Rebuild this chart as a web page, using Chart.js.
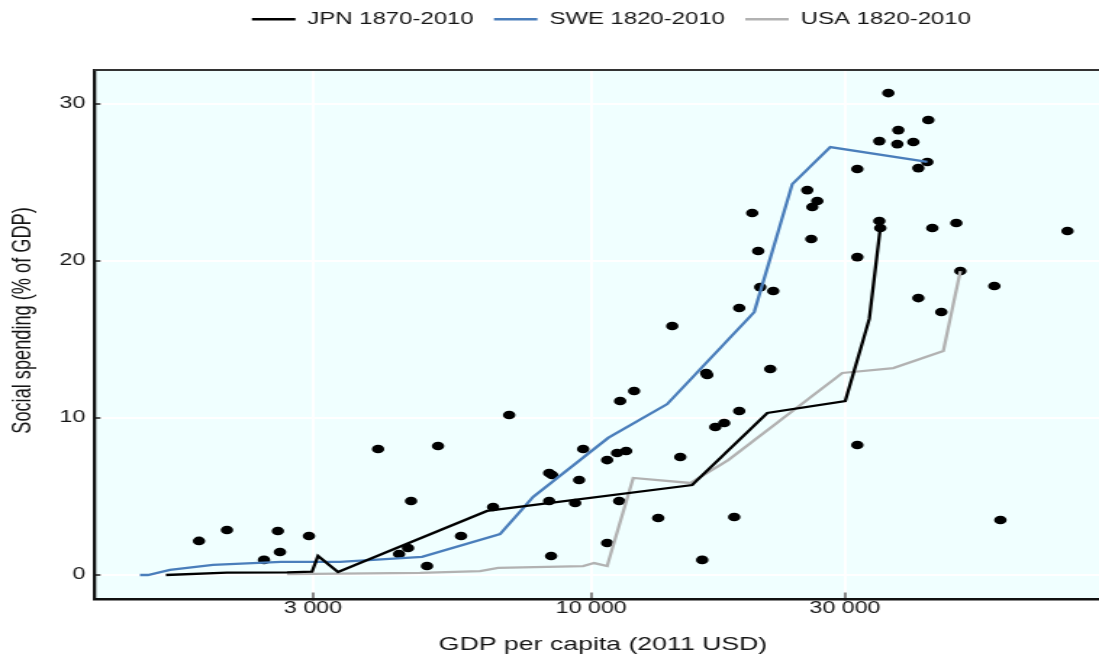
<!DOCTYPE html>
<html>
<head>
<meta charset="utf-8">
<script src="https://cdn.jsdelivr.net/npm/chart.js@4/dist/chart.umd.min.js"></script>
<style>
  html, body { margin: 0; padding: 0; background: #ffffff; overflow: hidden; }
  #wrap { width: 758px; height: 657px; transform: scaleX(1.4499); transform-origin: 0 0; }
  canvas { display: block; }
</style>
</head>
<body>
<div id="wrap"><canvas id="chart" width="758" height="657"></canvas></div>
<script>
// Country observations: GDP per capita (2011 USD) and social spending (% of GDP)
const pointGdp = [1832, 2068, 2427, 2578, 2601, 2949, 3977, 4355, 4528, 4587, 4915, 5155,
  5694, 6542, 7013, 8337, 8445, 8337, 8409, 9330, 9493, 9660, 10717, 10717,
  11190, 11635, 11290, 11336, 12044, 13366, 14203, 14705, 16171, 16454, 16526, 17112,
  17787, 18574, 18980, 18980, 20078, 20606, 20787, 21706, 21988, 25480, 26037, 26607,
  25925, 31637, 31637, 31637, 34800, 34800, 34945, 36185, 37620, 37784, 40320, 41203,
  41203, 42837, 43022, 43772, 45505, 48564, 49420, 57254, 58760, 78570];
const pointSpending = [2.17, 2.87, 0.96, 2.80, 1.46, 2.48, 8.03, 1.34, 1.72, 4.71, 0.57, 8.22,
  2.48, 4.33, 10.19, 6.50, 6.37, 4.71, 1.21, 4.59, 6.05, 8.03, 7.32, 2.04,
  7.77, 7.90, 4.71, 11.08, 11.72, 3.63, 15.86, 7.52, 0.96, 12.87, 12.74, 9.43,
  9.68, 3.69, 10.45, 17.01, 23.06, 20.64, 18.34, 13.12, 18.09, 24.52, 23.44, 23.82,
  21.40, 25.86, 20.25, 8.28, 27.64, 22.55, 22.10, 30.70, 27.45, 28.34, 27.58, 25.92,
  17.64, 26.31, 28.98, 22.10, 16.75, 22.42, 19.36, 18.41, 3.50, 21.91];

// Historical paths
const jpnGdp = [1588, 2068, 2682, 2988, 3066, 3344, 6374, 15485, 21429, 30034, 33327, 34945];
const jpnSpending = [0.00, 0.15, 0.17, 0.21, 1.21, 0.19, 4.08, 5.73, 10.32, 11.08, 16.31, 22.10];

const sweGdp = [1419, 1469, 1616, 1946, 2613, 3373, 4811, 6743, 7779, 10763, 13899, 20254, 23878, 28143, 42837];
const sweSpending = [0.00, 0.00, 0.32, 0.64, 0.83, 0.83, 1.15, 2.61, 4.97, 8.73, 10.89, 16.75, 24.90, 27.26, 26.31];

const usaGdp = [2682, 4769, 6184, 6686, 9660, 10130, 10717, 11995, 15355, 18097, 29648, 36974, 45904, 49420];
const usaSpending = [0.06, 0.13, 0.25, 0.45, 0.57, 0.76, 0.57, 6.18, 5.86, 7.32, 12.87, 13.18, 14.27, 19.36];

const seriesLabels = ['JPN 1870-2010', 'SWE 1820-2010', 'USA 1820-2010'];

// Axis ticks
const xTickValues = [3000, 10000, 30000];
const xTickLabels = ['3 000', '10 000', '30 000'];
const yTickValues = [0, 10, 20, 30];
const yTickLabels = ['0', '10', '20', '30'];

const FONT = '"Liberation Sans", Arial, Helvetica, sans-serif';
const TEXT = '#141414';

const toPoints = (xs, ys) => xs.map((x, i) => ({ x: x, y: ys[i] }));

// Panel background and top frame line
const panel = {
  id: 'panel',
  beforeDraw(chart) {
    const a = chart.chartArea, ctx = chart.ctx;
    ctx.save();
    ctx.fillStyle = '#f0ffff';
    ctx.fillRect(a.left, a.top, a.right - a.left, a.bottom - a.top);
    ctx.restore();
  },
  beforeDatasetsDraw(chart) {
    const a = chart.chartArea, ctx = chart.ctx;
    ctx.save();
    ctx.strokeStyle = '#333333';
    ctx.lineWidth = 2;
    ctx.beginPath();
    ctx.moveTo(a.left, a.top);
    ctx.lineTo(a.right, a.top);
    ctx.stroke();
    ctx.restore();
  }
};

// Legend block height / placement and axis title offsets
const placement = {
  id: 'placement',
  beforeLayout(chart) {
    const lg = chart.legend;
    if (lg && !lg.__sized) {
      const fit = lg.fit;
      lg.fit = function () { fit.call(this); this.height = 73; };
      lg.__sized = true;
    }
  },
  afterLayout(chart) {
    const lg = chart.legend;
    if (lg) { lg.left += 42.7; lg.right += 42.7; }
    const shifts = { x: [4.5, 0], y: [0, -14] };
    Object.keys(shifts).forEach(id => {
      const sc = chart.scales[id];
      if (sc && !sc.__shifted) {
        const draw = sc.drawTitle;
        const [dx, dy] = shifts[id];
        sc.drawTitle = function () {
          this.ctx.save();
          this.ctx.translate(dx, dy);
          draw.apply(this, arguments);
          this.ctx.restore();
        };
        sc.__shifted = true;
      }
    });
  }
};

new Chart(document.getElementById('chart'), {
  type: 'scatter',
  data: {
    datasets: [
      { label: seriesLabels[0], data: toPoints(jpnGdp, jpnSpending), showLine: true,
        borderColor: '#000000', backgroundColor: '#000000', borderWidth: 2.3, pointRadius: 0, pointHoverRadius: 0, tension: 0 },
      { label: seriesLabels[1], data: toPoints(sweGdp, sweSpending), showLine: true,
        borderColor: '#4a7ebb', backgroundColor: '#4a7ebb', borderWidth: 2.3, pointRadius: 0, pointHoverRadius: 0, tension: 0 },
      { label: seriesLabels[2], data: toPoints(usaGdp, usaSpending), showLine: true,
        borderColor: '#b2b2b2', backgroundColor: '#b2b2b2', borderWidth: 2.3, pointRadius: 0, pointHoverRadius: 0, tension: 0 },
      { label: 'obs', data: toPoints(pointGdp, pointSpending), showLine: false,
        backgroundColor: '#000000', borderColor: '#000000', borderWidth: 0, pointRadius: 4.3, pointHoverRadius: 4.3 }
    ]
  },
  options: {
    responsive: false,
    animation: false,
    devicePixelRatio: 1,
    events: [],
    layout: { autoPadding: false, padding: { top: -3, left: 0, right: 0, bottom: 0 } },
    plugins: {
      tooltip: { enabled: false },
      legend: {
        display: true,
        position: 'top',
        align: 'center',
        labels: {
          boxWidth: 30, boxHeight: 2.5, padding: 14, color: TEXT,
          font: { family: FONT, size: 16.5 },
          generateLabels(chart) {
            return chart.data.datasets.slice(0, 3).map((ds, i) => ({
              text: ds.label, fillStyle: ds.borderColor, strokeStyle: ds.borderColor,
              lineWidth: 0, hidden: false, datasetIndex: i, fontColor: TEXT
            }));
          }
        }
      }
    },
    scales: {
      x: {
        type: 'logarithmic', position: 'bottom', min: 1163, max: 90060, bounds: 'data',
        afterFit(scale) { scale.height = 58; },
        afterBuildTicks(scale) { scale.ticks = xTickValues.map(v => ({ value: v })); },
        ticks: { autoSkip: false, maxRotation: 0, padding: 6.5, color: TEXT, font: { family: FONT, size: 16 },
          callback: (v, i) => xTickLabels[i] },
        grid: { color: '#ffffff', lineWidth: 2, drawTicks: true, tickLength: -6.5, tickColor: '#555555', tickWidth: 1.4 },
        border: { display: true, color: '#111111', width: 2.5 },
        title: { display: true, text: 'GDP per capita (2011 USD)', color: TEXT,
          font: { family: FONT, size: 18.4 }, padding: { top: 0, bottom: 1 } }
      },
      y: {
        type: 'linear', position: 'left', min: -1.53, max: 32.17, bounds: 'data',
        afterFit(scale) { scale.width = 64.8; },
        afterBuildTicks(scale) { scale.ticks = yTickValues.map(v => ({ value: v })); },
        ticks: { autoSkip: false, padding: 10.5, color: TEXT, font: { family: FONT, size: 16 },
          callback: (v, i) => yTickLabels[i] },
        grid: { color: '#ffffff', lineWidth: 2, drawTicks: true, tickLength: -4.5, tickColor: '#555555', tickWidth: 2 },
        border: { display: true, color: '#111111', width: 2.3 },
        title: { display: true, text: 'Social spending (% of GDP)', color: TEXT,
          font: { family: FONT, size: 18.2 }, padding: { top: 5, bottom: 0 } }
      }
    }
  },
  plugins: [panel, placement]
});
</script>
</body>
</html>
